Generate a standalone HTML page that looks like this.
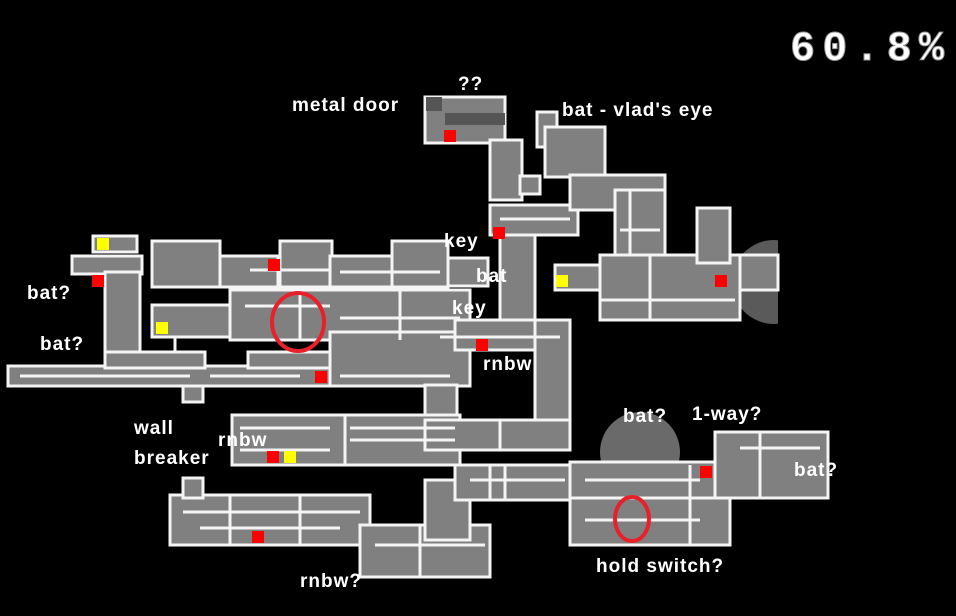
<!DOCTYPE html>
<html><head><style>
body{margin:0;background:#000;width:956px;height:616px;overflow:hidden}
svg{display:block}
text{font-family:"Liberation Sans",sans-serif;font-weight:bold;fill:#fff}
</style></head><body>
<svg width="956" height="616" viewBox="0 0 956 616">
<defs><clipPath id="c"><rect x="0" y="0" width="778" height="616"/></clipPath></defs>
<circle cx="774" cy="282" r="42" fill="#5a5a5a" clip-path="url(#c)"/>
<circle cx="640" cy="452" r="40" fill="#6a6a6a"/>
<g fill="#808080" stroke="#f4f4f4" stroke-width="3">
<rect x="93" y="236" width="44" height="16"/>
<rect x="72" y="256" width="70" height="18"/>
<rect x="152" y="241" width="68" height="46"/>
<rect x="220" y="256" width="58" height="31"/>
<rect x="280" y="241" width="52" height="46"/>
<rect x="330" y="256" width="62" height="31"/>
<rect x="392" y="241" width="56" height="46"/>
<rect x="448" y="258" width="40" height="28"/>
<rect x="105" y="272" width="35" height="100"/>
<rect x="152" y="305" width="118" height="32"/>
<rect x="230" y="290" width="240" height="50"/>
<rect x="8" y="366" width="455" height="20"/>
<rect x="105" y="352" width="100" height="16"/>
<rect x="248" y="352" width="88" height="16"/>
<rect x="330" y="332" width="140" height="54"/>
<rect x="183" y="386" width="20" height="16"/>
<rect x="425" y="385" width="32" height="38"/>
<rect x="232" y="415" width="228" height="50"/>
<rect x="425" y="97" width="80" height="46"/>
<rect x="490" y="140" width="32" height="60"/>
<rect x="520" y="176" width="20" height="18"/>
<rect x="490" y="205" width="88" height="30"/>
<rect x="500" y="235" width="35" height="95"/>
<rect x="455" y="320" width="115" height="30"/>
<rect x="535" y="320" width="35" height="130"/>
<rect x="425" y="420" width="145" height="30"/>
<rect x="170" y="495" width="200" height="50"/>
<rect x="183" y="478" width="20" height="20"/>
<rect x="360" y="525" width="130" height="52"/>
<rect x="425" y="480" width="45" height="60"/>
<rect x="455" y="465" width="120" height="35"/>
<rect x="490" y="465" width="15" height="35"/>
<rect x="570" y="465" width="160" height="80"/>
<rect x="570" y="462" width="258" height="36"/>
<rect x="715" y="432" width="113" height="66"/>
<rect x="537" y="112" width="20" height="35"/>
<rect x="545" y="127" width="60" height="50"/>
<rect x="570" y="175" width="95" height="35"/>
<rect x="615" y="190" width="50" height="130"/>
<rect x="555" y="265" width="60" height="25"/>
<rect x="600" y="255" width="140" height="65"/>
<rect x="697" y="208" width="33" height="55"/>
<rect x="740" y="255" width="38" height="35"/>
</g>
<g stroke="#f4f4f4" stroke-width="3" fill="none">
<path d="M20 376H190M210 376H300M340 376H450M245 306H330M340 318H460M240 428H330M350 428H455M240 450H330M350 440H455M183 512H360M200 528H340M375 545H485M470 480H565M585 480H700M740 448H820M585 520H700M600 300H735M620 230H660M440 337H560M250 270H330M340 272H440M500 219H570"/>
<path d="M175 337V352M300 290V340M345 415V465M400 290V340M500 420V450M230 495V545M300 495V545M420 525V577M650 255V320M690 465V545M760 432V498M630 190V255"/>
</g>
<g fill="#555"><rect x="426" y="97" width="16" height="14"/><rect x="445" y="113" width="60" height="12"/></g>
<g fill="#ff0000">
<rect x="444" y="130" width="12" height="12"/><rect x="493" y="227" width="12" height="12"/>
<rect x="268" y="259" width="12" height="12"/><rect x="92" y="275" width="12" height="12"/>
<rect x="476" y="339" width="12" height="12"/><rect x="315" y="371" width="12" height="12"/>
<rect x="267" y="451" width="12" height="12"/><rect x="252" y="531" width="12" height="12"/>
<rect x="715" y="275" width="12" height="12"/><rect x="700" y="466" width="12" height="12"/>
</g>
<g fill="#ffff00">
<rect x="97" y="238" width="12" height="12"/><rect x="156" y="322" width="12" height="12"/>
<rect x="284" y="451" width="12" height="12"/><rect x="556" y="275" width="12" height="12"/>
</g>
<g fill="none" stroke="#e8202a" stroke-width="4">
<ellipse cx="298" cy="322" rx="26" ry="29"/>
<ellipse cx="632" cy="519" rx="17" ry="22"/>
</g>
<g font-size="19" letter-spacing="1">
<text x="292" y="111">metal door</text>
<text x="458" y="90">??</text>
<text x="562" y="116">bat - vlad's eye</text>
<text x="444" y="247">key</text>
<text x="476" y="282">bat</text>
<text x="452" y="314">key</text>
<text x="27" y="299">bat?</text>
<text x="40" y="350">bat?</text>
<text x="483" y="370">rnbw</text>
<text x="134" y="434">wall</text>
<text x="134" y="464">breaker</text>
<text x="218" y="446">rnbw</text>
<text x="623" y="422">bat?</text>
<text x="692" y="420">1-way?</text>
<text x="794" y="476">bat?</text>
<text x="596" y="572">hold switch?</text>
<text x="300" y="587">rnbw?</text>
</g>
<text x="790" y="60" font-size="42" letter-spacing="7" style="font-family:'Liberation Mono',monospace" fill="#fff" stroke="#999" stroke-width="1">60.8%</text>
</svg>
</body></html>
